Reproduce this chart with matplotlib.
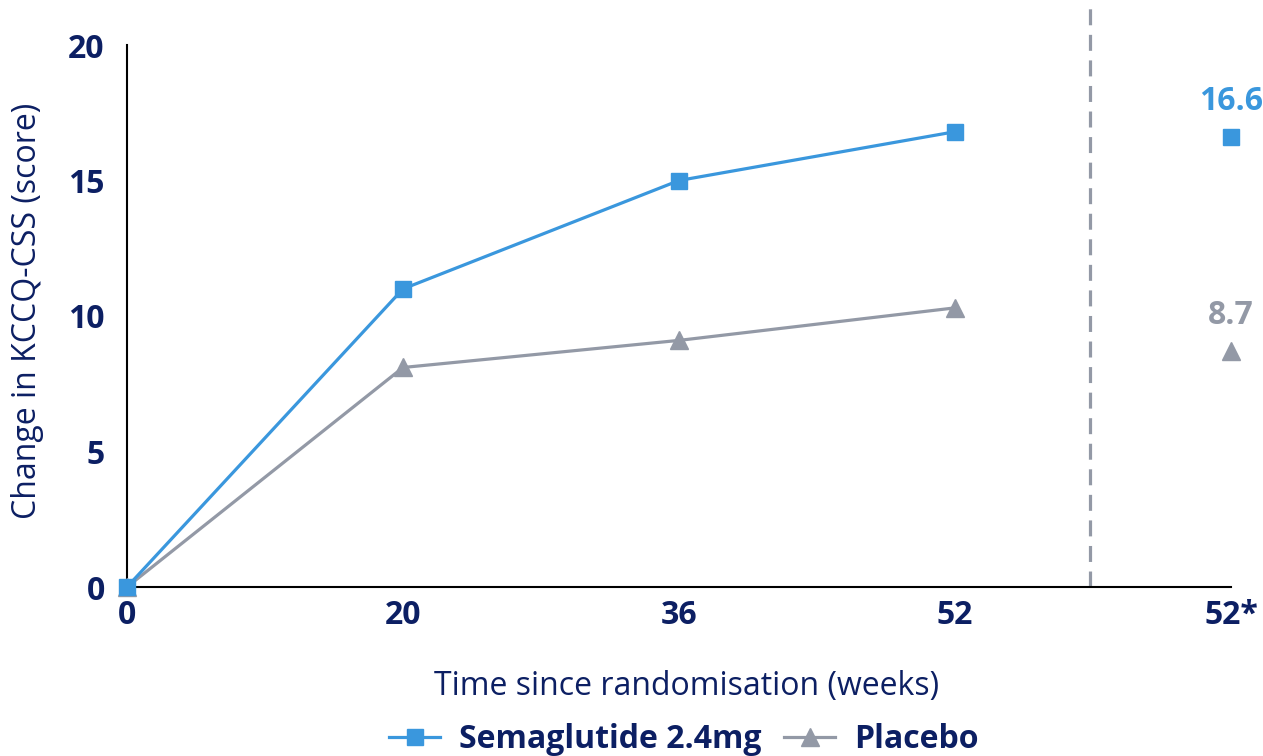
import matplotlib.pyplot as plt

# Data
week_labels = ["0", "20", "36", "52", "52*"]
sema_values = [0, 11.0, 15.0, 16.8]
placebo_values = [0, 8.1, 9.1, 10.3]
sema_final = 16.6
placebo_final = 8.7

BLUE = "#3a97dd"
GRAY = "#9399a6"
NAVY = "#0c1f63"

plt.rcParams["font.family"] = ["Open Sans", "DejaVu Sans"]

fig = plt.figure(figsize=(12.63, 7.56), dpi=100)
ax = fig.add_axes([127 / 1263, 1 - 587 / 756, (1231 - 127) / 1263, (587 - 45) / 756])

x_main = list(range(len(sema_values)))
x_final = len(week_labels) - 1

ax.plot(x_main, placebo_values, color=GRAY, lw=2.3, marker="^", ms=13,
        clip_on=False, zorder=3, label="Placebo")
ax.plot(x_main, sema_values, color=BLUE, lw=2.3, marker="s", ms=12,
        clip_on=False, zorder=4, label="Semaglutide 2.4mg")

# 52* values: markers only
ax.plot([x_final], [sema_final], color=BLUE, marker="s", ms=12, ls="none", clip_on=False, zorder=4)
ax.plot([x_final], [placebo_final], color=GRAY, marker="^", ms=13, ls="none", clip_on=False, zorder=3)
ax.annotate(f"{sema_final}", (x_final, sema_final), xytext=(0, 26), textcoords="offset points",
            ha="center", va="center", color=BLUE, fontsize=23, fontweight="bold")
ax.annotate(f"{placebo_final}", (x_final, placebo_final), xytext=(0, 26), textcoords="offset points",
            ha="center", va="center", color=GRAY, fontsize=23, fontweight="bold")

# dashed separator
ax.plot([3.49, 3.49], [0, 21.4], color=GRAY, lw=2.3, ls=(0, (5, 3)), clip_on=False, zorder=2)

ax.set_xlim(0, x_final)
ax.set_ylim(0, 20)
ax.set_xticks(range(len(week_labels)))
ax.set_xticklabels(week_labels)
ax.set_yticks([0, 5, 10, 15, 20])
ax.tick_params(axis="both", length=0, labelsize=23, labelcolor=NAVY)
ax.tick_params(axis="x", pad=9)
ax.tick_params(axis="y", pad=16)
for lbl in ax.get_xticklabels() + ax.get_yticklabels():
    lbl.set_fontweight("bold")

for side in ["top", "right"]:
    ax.spines[side].set_visible(False)
for side in ["left", "bottom"]:
    ax.spines[side].set_linewidth(1.5)
    ax.spines[side].set_color("black")

ax.set_xlabel("Time since randomisation (weeks)", fontsize=23, color=NAVY)
ax.xaxis.set_label_coords((687 - 127) / 1104, -(686 - 587) / 542)
ax.xaxis.label.set_va("center")
ax.set_ylabel("Change in KCCQ-CSS (score)", fontsize=23, color=NAVY)
ax.yaxis.set_label_coords((28 - 127) / 1104, (587 - 311) / 542)
ax.yaxis.label.set_va("center")

handles, labels = ax.get_legend_handles_labels()
leg = ax.legend(handles[::-1], labels[::-1], loc="center", bbox_to_anchor=((684 - 127) / 1104, -(740 - 587) / 542),
                ncol=2, frameon=False, fontsize=23, handlelength=1.6, columnspacing=0.7,
                handletextpad=0.6)
for t in leg.get_texts():
    t.set_color(NAVY)
    t.set_fontweight("bold")

fig.savefig("out.png", dpi=100)
